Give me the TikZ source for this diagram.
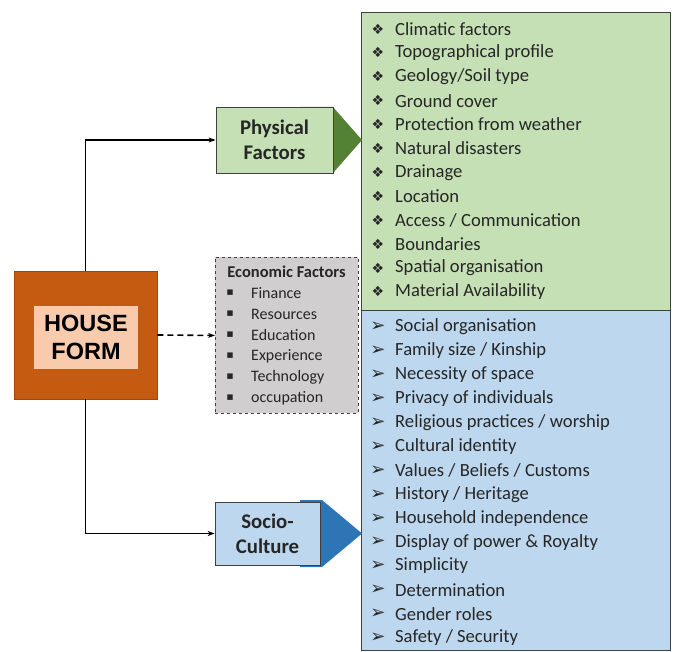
\documentclass[tikz,border=0pt]{standalone}
\usepackage{fontspec}
\setmainfont{Carlito}
\newfontfamily\arialf{Liberation Sans}
\newfontfamily\dejavu{DejaVu Sans}
\usetikzlibrary{arrows.meta}
\definecolor{housedark}{HTML}{C55A11}
\definecolor{houselight}{HTML}{F8CBAD}
\definecolor{greenfill}{HTML}{C5E0B4}
\definecolor{greendark}{HTML}{548235}
\definecolor{bluefill}{HTML}{BDD7EE}
\definecolor{bluedark}{HTML}{2E75B6}
\definecolor{grayfill}{HTML}{D0CECE}
\definecolor{edge}{HTML}{404040}
\tikzset{
  listbox/.style={draw=edge, line width=0.8pt, anchor=north west, inner sep=0pt},
  itemtext/.style={anchor=west, inner sep=0pt, font=\fontsize{18.6}{21}\selectfont, text=black!85},
  bul/.style={anchor=center, inner sep=0pt, font=\dejavu\fontsize{14}{14}\selectfont, text=black!85},
  ecotext/.style={anchor=west, inner sep=0pt, font=\fontsize{16}{18}\selectfont, text=black!85},
  catbox/.style={draw=edge, line width=0.8pt, align=center, inner sep=0pt, font=\bfseries\fontsize{20.8}{25}\selectfont, text=black!85},
  conn/.style={line width=1.2pt, -{Stealth[length=7pt,width=5pt]}}
}
\begin{document}
\begin{tikzpicture}[x=1pt,y=-1pt]
\useasboundingbox (0,0) rectangle (674,652);
% list boxes
\node[listbox, fill=greenfill, minimum width=309pt, minimum height=298pt] (glist) at (361,12) {};
\node[listbox, fill=bluefill, minimum width=309pt, minimum height=340pt] (blist) at (361,310) {};
\foreach \t [count=\i from 0] in {Climatic factors, Topographical profile, Geology/Soil type, Ground cover, Protection from weather, Natural disasters, Drainage, Location, Access / Communication, Boundaries, Spatial organisation, Material Availability}{
  \node[bul] (gb\i) at (378,{29+23.9*\i}) {❖};
  \node[itemtext] (g\i) at (395,{29+23.9*\i}) {\t};
}
\foreach \t [count=\i from 0] in {Social organisation, Family size / Kinship, Necessity of space, Privacy of individuals, Religious practices / worship, Cultural identity, Values / Beliefs / Customs, History / Heritage, Household independence, Display of power \& Royalty, Simplicity, Determination, Gender roles, Safety / Security}{
  \node[bul, font=\dejavu\fontsize{18}{18}\selectfont] (bb\i) at (378,{327+23.9*\i}) {➢};
  \node[itemtext] (b\i) at (395,{327+23.9*\i}) {\t};
}
% category arrows
\fill[greendark] (300,107) -- (333,107) -- (362,140) -- (333,173) -- (300,173) -- cycle;
\node[catbox, fill=greenfill, minimum width=117pt, minimum height=66pt] (phys) at (274.5,140) {Physical\\Factors};
\fill[bluedark] (300,500) -- (322,500) -- (362,533.5) -- (322,567) -- (300,567) -- cycle;
\node[catbox, fill=bluefill, minimum width=105pt, minimum height=63pt] (socio) at (267.5,533.5) {Socio-\\Culture};
% economic box
\node[draw=edge, dashed, line width=0.9pt, fill=grayfill, minimum width=143pt, minimum height=156pt, anchor=north west] (econ) at (215,257) {};
\node[anchor=center, inner sep=0pt, font=\bfseries\fontsize{16.5}{18}\selectfont, text=black!85] (etitle) at (286.5,272) {Economic Factors};
\foreach \t [count=\i from 0] in {Finance, Resources, Education, Experience, Technology, occupation}{
  \node[bul, font=\dejavu\fontsize{11}{11}\selectfont] (eb\i) at (230,{293+21*\i}) {▪};
  \node[ecotext] (e\i) at (251,{293+21*\i}) {\t};
}
% house form
\node[draw=housedark!80!black, line width=0.6pt, fill=housedark, minimum width=143pt, minimum height=128pt] (house) at (85.5,335) {};
\node[fill=houselight, minimum width=104pt, minimum height=63pt, inner sep=0pt, align=center, font=\arialf\bfseries\fontsize{23.5}{28}\selectfont] (housetext) at (86,337.5) {HOUSE\\FORM};
% connectors
\draw[conn] (house.north) |- (phys.west);
\draw[conn] (house.south) |- (socio.west);
\draw[conn, dash pattern=on 6pt off 4pt, line width=1.6pt] (house.east) -- (econ.west);
\end{tikzpicture}
\end{document}
